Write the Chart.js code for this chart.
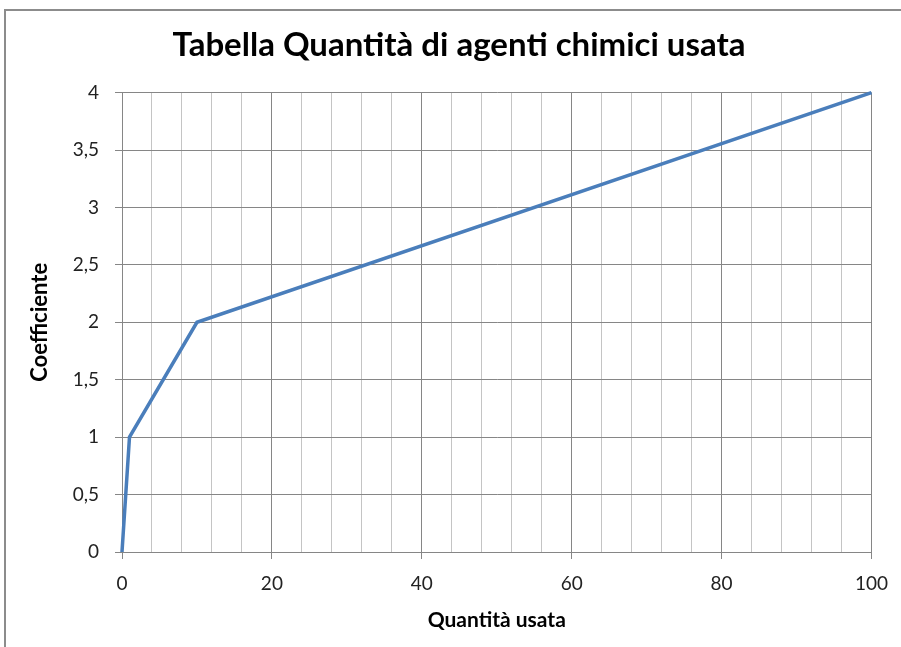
<!DOCTYPE html>
<html>
<head>
<meta charset="utf-8">
<script src="https://cdn.jsdelivr.net/npm/chart.js@4.4.0/dist/chart.umd.min.js"></script>
<style>
  html, body { margin: 0; padding: 0; background: #fff; }
  #wrap { position: relative; width: 901px; height: 647px; }
  #frame { position: absolute; left: 4px; top: 9px; width: 920px; height: 660px;
           border-left: 2px solid #8c8c8c; border-top: 2px solid #8c8c8c; pointer-events: none; }
</style>
</head>
<body>
<div id="wrap">
  <canvas id="myChart" width="901" height="647"></canvas>
  <div id="frame"></div>
</div>
<script>
// data
const quantita = [0, 1, 10, 100];
const coefficiente = [0, 1, 2, 4];
const chartTitle = 'Tabella Quantità di agenti chimici usata';
const xTitle = 'Quantità usata';
const yTitle = 'Coefficiente';

const fontFam = 'Lato, "Open Sans", sans-serif';
const majorGrid = '#868686';
const minorGrid = '#c4c4c4';

var points = [];
for (var i = 0; i < quantita.length; i++) {
  points.push({ x: quantita[i], y: coefficiente[i] });
}

var ctx = document.getElementById('myChart').getContext('2d');
var myChart = new Chart(ctx, {
  type: 'line',
  data: {
    datasets: [{
      data: points,
      borderColor: '#4a7ebb',
      borderWidth: 3.5,
      pointRadius: 0,
      tension: 0,
      clip: false
    }]
  },
  options: {
    responsive: false,
    animation: false,
    // left 17 + right 0 puts the title centre near x=459 like the original
    layout: { padding: { left: 17, right: 0, top: 0, bottom: 0 } },
    plugins: {
      legend: { display: false },
      tooltip: { enabled: false },
      title: {
        display: true,
        text: chartTitle,
        color: '#000',
        font: { family: fontFam, size: 33, weight: 'bold' },
        padding: { top: 26, bottom: 27 }
      }
    },
    scales: {
      x: {
        type: 'linear',
        min: 0,
        max: 100,
        afterFit: function (s) { s.height = 95; },
        border: { color: majorGrid, width: 1 },
        grid: {
          color: c => (c.tick && c.tick.value % 20 === 0) ? majorGrid : minorGrid,
          tickColor: c => (c.tick && c.tick.value % 20 === 0) ? majorGrid : 'rgba(0,0,0,0)',
          tickLength: 7
        },
        ticks: {
          stepSize: 4,
          autoSkip: false,
          maxRotation: 0,
          padding: 13,
          color: '#222',
          font: { family: fontFam, size: 19 },
          callback: v => (v % 20 === 0 ? String(v) : '')
        },
        title: {
          display: true,
          text: xTitle,
          color: '#000',
          font: { family: fontFam, size: 21, weight: 'bold' },
          padding: { top: 0, bottom: 14 }
        }
      },
      y: {
        min: 0,
        max: 4,
        afterFit: function (s) { s.width = 105; },
        border: { color: majorGrid, width: 1 },
        grid: { color: majorGrid, tickColor: majorGrid, tickLength: 7 },
        ticks: {
          stepSize: 0.5,
          padding: 16,
          color: '#222',
          font: { family: fontFam, size: 19 },
          callback: v => String(v).replace('.', ',')
        },
        title: {
          display: true,
          text: yTitle,
          color: '#000',
          font: { family: fontFam, size: 22, weight: 'bold' },
          padding: { top: 10, bottom: 0 }
        }
      },
      yPad: {
        position: 'right',
        display: true,
        afterFit: function (s) { s.width = 29; },
        border: { display: false },
        grid: { display: false, drawTicks: false },
        ticks: { display: false }
      }
    }
  }
});
</script>
</body>
</html>
